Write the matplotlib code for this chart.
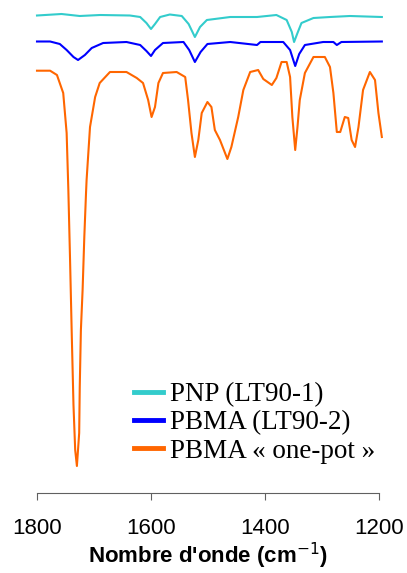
import matplotlib.pyplot as plt

# spectra (wavenumber in cm-1, signal in arbitrary units, offset per trace)
wn_pnp = [1800, 1757, 1725, 1689, 1637, 1619, 1608, 1600, 1593, 1584, 1567, 1546, 1534, 1523,
          1514, 1502, 1461, 1414, 1380, 1362, 1353, 1349, 1343, 1336, 1315, 1286, 1251, 1195]
y_pnp = [15.5, 14, 16, 15, 15.5, 17, 23, 29, 24, 17, 14.5, 16, 24, 37,
         27, 20, 17, 17, 15, 20, 32, 42, 33, 23, 18, 17, 16, 17]

wn_lt2 = [1800, 1777, 1760, 1748, 1736, 1728, 1716, 1704, 1684, 1643, 1619, 1608, 1600, 1593,
          1579, 1543, 1533, 1523, 1513, 1501, 1461, 1414, 1408, 1368, 1356, 1347, 1340, 1330,
          1298, 1280, 1274, 1266, 1195]
y_lt2 = [41.5, 41.5, 44, 50, 57, 60, 55, 48, 43, 42, 45, 51, 56, 50,
         43, 42, 50, 62, 52, 44, 42, 45, 42, 42, 50, 66, 54, 45,
         42, 42, 45, 42, 41.5]

wn_one = [1800, 1777, 1765, 1754, 1748, 1745, 1742, 1739, 1736, 1733, 1730, 1726, 1725,
          1723, 1720, 1717, 1714, 1713, 1707, 1698, 1690, 1672, 1643, 1625, 1614, 1605, 1599,
          1593, 1587, 1579, 1555, 1540, 1535, 1529, 1523, 1517, 1511, 1501, 1494, 1488, 1479,
          1466, 1459, 1447, 1438, 1426, 1412, 1403, 1388, 1380, 1371, 1362, 1356, 1352, 1347,
          1343, 1339, 1330, 1315, 1295, 1286, 1280, 1274, 1268, 1260, 1254, 1248, 1242, 1236,
          1228, 1216, 1207, 1201, 1195]
y_one = [70.7, 70.7, 75, 93, 133, 190, 260, 335, 405, 450, 466, 433, 387,
         330, 290, 237, 193, 180, 127, 97, 83, 72, 72, 78, 83, 100, 117,
         107, 83, 73, 72, 77, 100, 133, 157, 140, 113, 102, 107, 130, 140,
         159, 147, 117, 90, 72, 70, 79, 85, 78, 62, 62, 77, 117, 150,
         127, 100, 73, 57, 57, 67, 93, 132, 132, 117, 118, 140, 147, 127,
         90, 72, 80, 113, 137]

labels = ["PNP (LT90-1)", "PBMA (LT90-2)", "PBMA « one-pot »"]
colors = ["#33CCCC", "#0000FF", "#FF6600"]

fig = plt.figure(figsize=(4.07, 5.73), dpi=100)
ax = fig.add_axes([37 / 407, 1 - 493 / 573, 342 / 407, 493 / 573])

for wn, y, lab, c in zip([wn_pnp, wn_lt2, wn_one], [y_pnp, y_lt2, y_one], labels, colors):
    ax.plot(wn, y, color=c, lw=1.5, label=lab, clip_on=False)

ax.set_xlim(1800, 1200)
ax.set_ylim(493, 0)
ax.set_xticks([1800, 1600, 1400, 1200])
ax.set_yticks([])
for s in ["top", "left", "right"]:
    ax.spines[s].set_visible(False)
ax.spines["bottom"].set_color("#606060")
ax.tick_params(axis="x", direction="out", length=5, color="#606060", pad=13,
               labelsize=16, labelfontfamily="Liberation Sans")
ax.set_xlabel("Nombre d'onde (cm$^{-1}$)", fontsize=16, fontweight="bold",
              family="Liberation Sans", labelpad=1)

leg = ax.legend(loc="upper left", bbox_to_anchor=(0.285, 0.225), frameon=False,
                prop={"family": "Liberation Serif", "size": 19.5},
                handlelength=1.05, handletextpad=0.25, labelspacing=0.12,
                borderaxespad=0, borderpad=0)
for h in leg.get_lines():
    h.set_linewidth(3.5)

fig.savefig("out.png", dpi=100)
